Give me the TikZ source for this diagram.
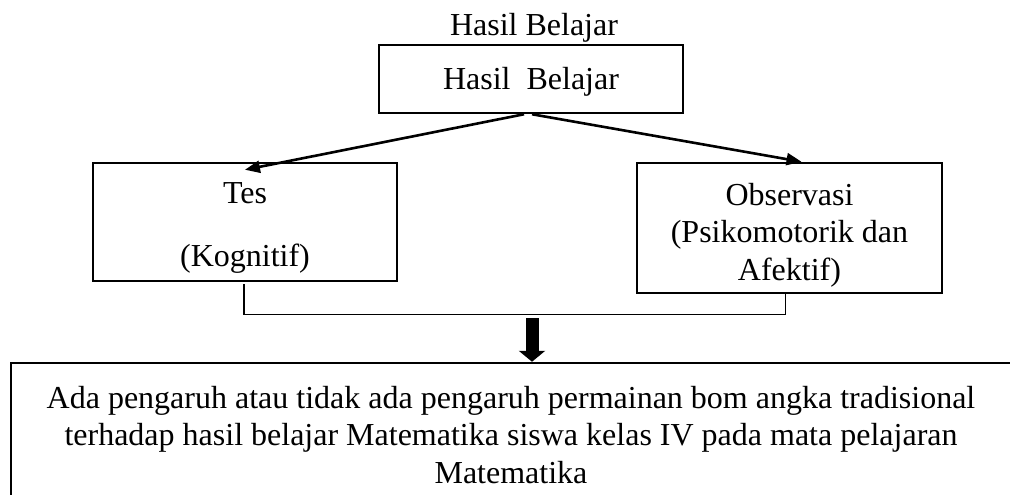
\documentclass[tikz,border=0pt]{standalone}
\usepackage{fontspec}
\setmainfont{Liberation Serif}
\usetikzlibrary{arrows.meta,positioning}
\begin{document}
\begin{tikzpicture}[x=1pt,y=-1pt,
    font=\fontsize{32}{37.5}\selectfont,
    box/.style={draw,line width=2.5pt,rectangle,align=center,inner sep=0pt},
    arr/.style={line width=2.6pt,-{Triangle[length=15pt,width=12pt]}},
    link/.style={line width=1.2pt},
    bigarr/.style={line width=13pt,-{Triangle[length=11pt,width=26pt]}}]
  \useasboundingbox (0,0) rectangle (1010,495);
  \clip (0,0) rectangle (1010,495);
  \node[anchor=base] (judul) at (534,36) {Hasil Belajar};
  \node[box,minimum width=304pt,minimum height=68pt] (hasil) at (531,79) {\rule{0pt}{28pt}Hasil\ \ Belajar};
  \node[box,minimum width=304pt,minimum height=118pt] (tes) at (245,222) {\rule{0pt}{33pt}Tes\\[25pt](Kognitif)};
  \node[box,minimum width=305pt,minimum height=130pt] (obs) at (789.5,228) {\rule{0pt}{36pt}Observasi\\(Psikomotorik dan\\Afektif)};
  \node[box,minimum width=1000pt,minimum height=138pt] (simpulan) at (511,432)
    {\rule{0pt}{28pt}Ada pengaruh atau tidak ada pengaruh permainan bom angka tradisional\\
     terhadap hasil belajar Matematika siswa kelas IV pada mata pelajaran\\
     Matematika};
  \coordinate (turun) at (532,318);
  \draw[arr] ([xshift=-7pt]hasil.south) -- ([yshift=-8pt]tes.north);
  \draw[arr] ([xshift=1pt]hasil.south) -- ([xshift=12pt]obs.north);
  \draw[link] ([xshift=-1pt,yshift=-2pt]tes.south) |- ([xshift=-4pt,yshift=-20pt]obs.south)
    -- ([xshift=-4pt,yshift=2pt]obs.south);
  \draw[bigarr] (turun) -- (turun |- simpulan.north);
\end{tikzpicture}
\end{document}
